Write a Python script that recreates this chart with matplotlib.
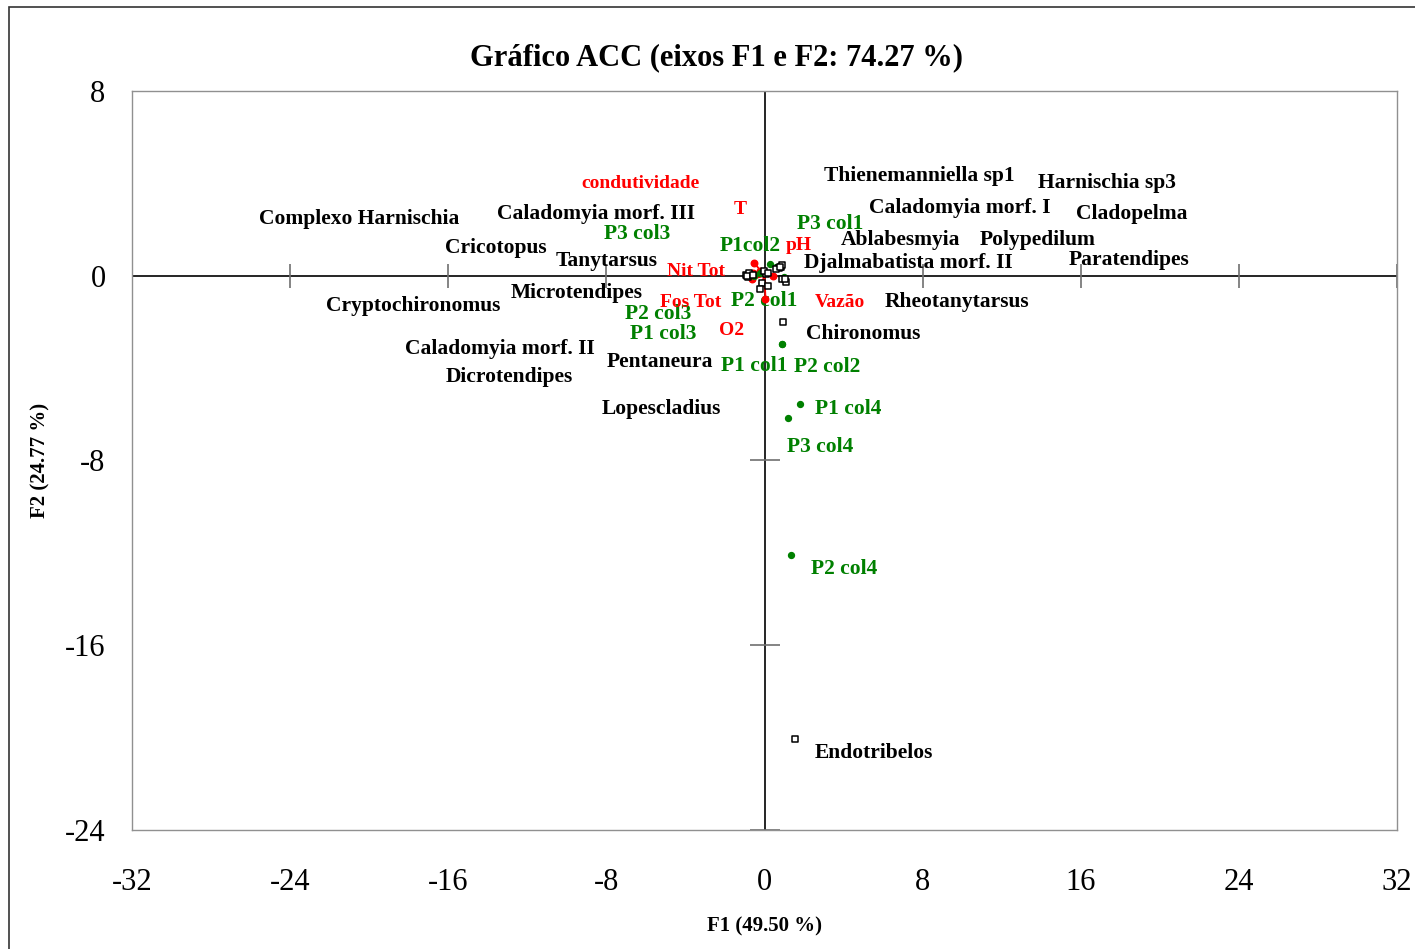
import matplotlib
matplotlib.use('Agg')
import matplotlib.pyplot as plt
from matplotlib.patches import Rectangle
import numpy as np

plt.rcParams['font.family'] = ['Liberation Serif', 'DejaVu Serif']

# species (objects) - markers and label positions (F1, F2)
sp_names = ['Thienemanniella sp1', 'Harnischia sp3', 'Caladomyia morf. I', 'Cladopelma',
            'Ablabesmyia', 'Polypedilum', 'Djalmabatista morf. II', 'Paratendipes',
            'Rheotanytarsus', 'Chironomus', 'Endotribelos', 'Complexo Harnischia',
            'Caladomyia morf. III', 'Cricotopus', 'Tanytarsus', 'Cryptochironomus',
            'Microtendipes', 'Caladomyia morf. II', 'Dicrotendipes', 'Pentaneura', 'Lopescladius']
sp_x = [0.72, 0.84, 0.59, 0.88, 0.08, 0.90, 1.10, 0.78, 1.05, 0.96, 1.52, -0.95,
        -0.85, -0.80, -0.15, -0.90, -0.25, 0.17, -0.05, -0.60, 0.20]
sp_y = [0.32, 0.36, 0.29, 0.46, 0.07, -0.12, -0.26, 0.40, -0.15, -1.99, -20.05, 0.05,
        -0.05, 0.10, -0.32, 0.00, -0.58, -0.46, 0.20, 0.05, 0.10]
sp_lx = [7.84, 17.30, 9.87, 18.57, 6.88, 13.81, 7.29, 18.42, 9.76, 5.01, 5.51, -20.49,
         -8.50, -13.61, -7.99, -17.76, -9.51, -13.41, -12.90, -5.31, -5.21]
sp_ly = [4.33, 4.03, 2.94, 2.68, 1.56, 1.56, 0.56, 0.69, -1.13, -2.51, -20.65, 2.47,
         2.68, 1.21, 0.65, -1.30, -0.74, -3.16, -4.37, -3.72, -5.76]

# sites
site_names = ['P3 col1', 'P1col2', 'P3 col3', 'P2 col3', 'P2 col1', 'P1 col3',
              'P1 col1', 'P2 col2', 'P1 col4', 'P3 col4', 'P2 col4']
site_x = [0.59, 0.29, -0.25, -0.60, 1.01, -0.55, 0.91, 0.91, 1.82, 1.21, 1.32]
site_y = [0.36, 0.51, 0.12, 0.05, -0.07, 0.00, -2.94, -2.94, -5.54, -6.15, -12.08]
site_lx = [3.34, -0.71, -6.43, -5.36, 0.00, -5.11, -0.51, 3.19, 4.25, 2.83, 4.05]
site_ly = [2.25, 1.30, 1.82, -1.65, -1.08, -2.51, -3.90, -3.94, -5.76, -7.40, -12.69]

# environmental variables (vectors)
env_names = ['condutividade', 'T', 'pH', 'Nit Tot', 'Fos Tot', 'Vazão', 'O2']
env_x = [-0.51, -0.22, 0.42, -0.59, -0.62, 0.05, -0.15]
env_y = [0.55, 0.22, 0.00, 0.12, -0.14, -1.00, -0.32]
env_lx = [-6.27, -1.21, 1.72, -3.49, -3.74, 3.84, -1.67]
env_ly = [3.98, 2.86, 1.30, 0.17, -1.17, -1.17, -2.38]

xticks = [-32, -24, -16, -8, 0, 8, 16, 24, 32]
yticks = [8, 0, -8, -16, -24]

fig = plt.figure(figsize=(14.15, 9.49), dpi=100)
ax = fig.add_axes([132 / 1415, 1 - 830 / 949, 1265 / 1415, 739 / 949])

# outer frame of the chart
fig.patches.append(Rectangle((9 / 1415, -0.05), 1.1, 1 - 7 / 949 + 0.05, transform=fig.transFigure,
                             fill=False, edgecolor='#333333', linewidth=1.2))

ax.set_xlim(-32, 32)
ax.set_ylim(-24, 8)
for s in ax.spines.values():
    s.set_color('#909090')
    s.set_linewidth(1)
ax.set_xticks(xticks)
ax.set_yticks(yticks)
ax.set_xticklabels([str(v) for v in xticks])
ax.set_yticklabels([str(v) for v in yticks])
ax.tick_params(length=0, labelsize=22, colors='black')
ax.tick_params(axis='x', pad=27)
ax.tick_params(axis='y', pad=19)

# central axes with tick marks
ax.axhline(0, color='black', linewidth=1.2, zorder=1)
ax.axvline(0, color='black', linewidth=1.2, zorder=1)
ax.plot([v for v in xticks if v != 0], [0] * 8, linestyle='none', marker='|',
        markersize=17, markeredgewidth=1.2, color='#707070', zorder=1)
ax.plot([0] * 4, [v for v in yticks if v != 0], linestyle='none', marker='_',
        markersize=21, markeredgewidth=1.2, color='#707070', zorder=1)

# environmental vectors
for x, y in zip(env_x, env_y):
    ax.plot([0, x], [0, y], color='red', linewidth=1.3, zorder=3)
ax.scatter(env_x, env_y, s=22, color='red', zorder=4)

# sites
ax.scatter(site_x, site_y, s=18, color='green', zorder=5)
# species
ax.scatter(sp_x, sp_y, s=20, marker='s', facecolor='white', edgecolor='black',
           linewidth=1.1, zorder=6)

for n, x, y in zip(sp_names, sp_lx, sp_ly):
    ax.text(x, y, n, ha='center', va='center', fontsize=15.5, fontweight='bold', color='black')
for n, x, y in zip(site_names, site_lx, site_ly):
    ax.text(x, y, n, ha='center', va='center', fontsize=15.5, fontweight='bold', color='green')
for n, x, y in zip(env_names, env_lx, env_ly):
    ax.text(x, y, n, ha='center', va='center', fontsize=14, fontweight='bold', color='red')

fig.text(716 / 1415, 1 - 58 / 949, 'Gráfico ACC (eixos F1 e F2: 74.27 %)', ha='center',
         va='center', fontsize=22, fontweight='bold')
fig.text(765 / 1415, 1 - 926 / 949, 'F1 (49.50 %)', ha='center', va='center',
         fontsize=15, fontweight='bold')
fig.text(40 / 1415, 1 - 460 / 949, 'F2 (24.77 %)', ha='center', va='center',
         fontsize=15, fontweight='bold', rotation=90)

fig.savefig('out.png', dpi=100)
